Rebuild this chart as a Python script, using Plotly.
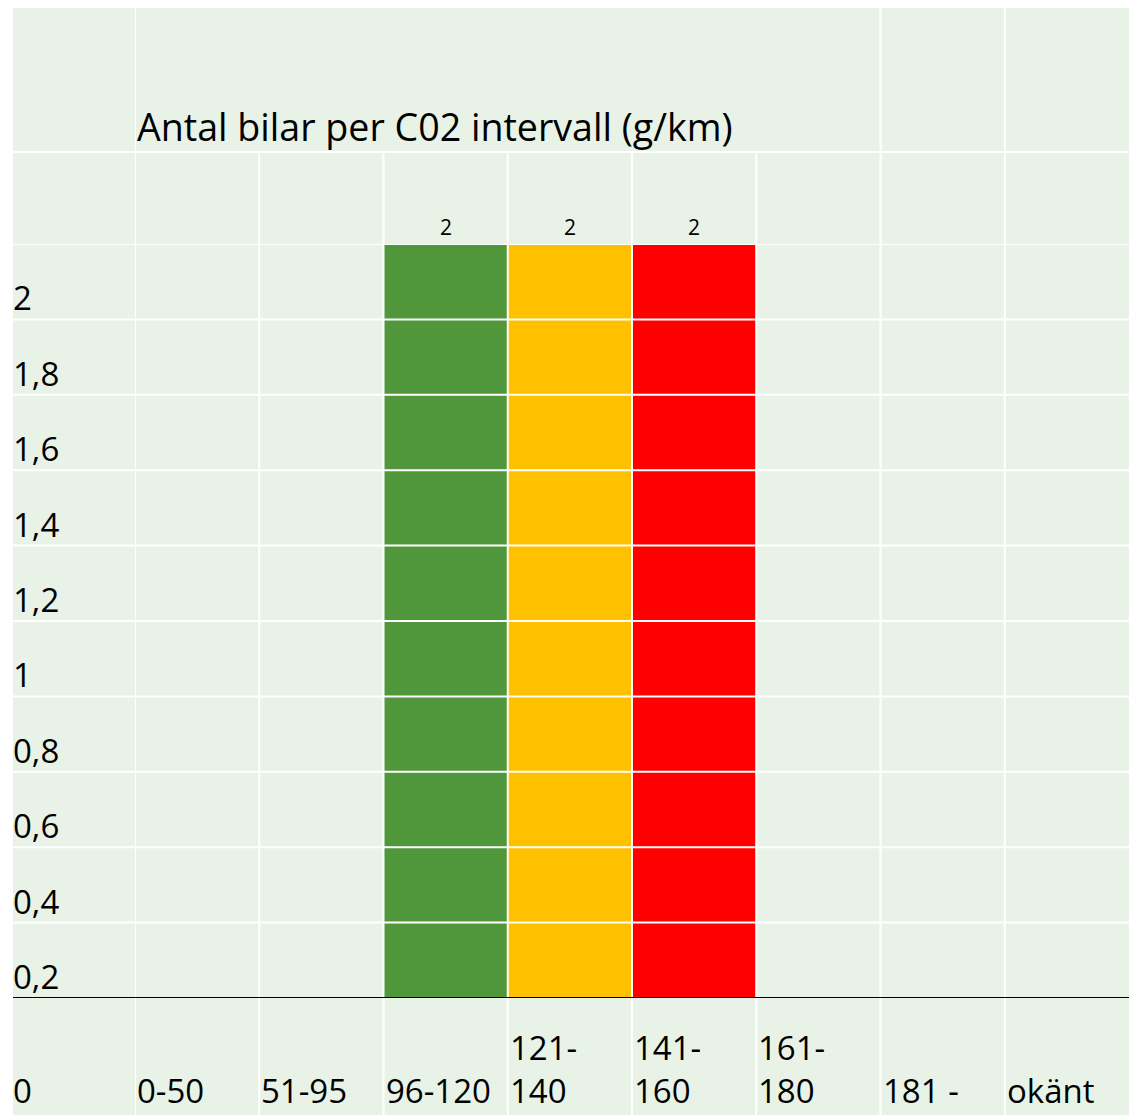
import plotly.graph_objects as go

# ---- data ----
categories = ["0-50", "51-95", "96-120", "121-140", "141-160", "161-180", "181 -", "okänt"]
category_labels = ["0-50", "51-95", "96-120", "121-<br>140", "141-<br>160", "161-<br>180", "181 -", "okänt"]
values = [0, 0, 2, 2, 2, 0, 0, 0]
bar_colors = ["#50963A", "#50963A", "#50963A", "#FFC000", "#FF0000", "#FF0000", "#FF0000", "#FF0000"]
y_ticks = [0, 0.2, 0.4, 0.6, 0.8, 1.0, 1.2, 1.4, 1.6, 1.8, 2.0]
title_text = "Antal bilar per C02 intervall (g/km)"

# ---- layout geometry ----
W, H = 1129, 1115
FONT = "Open Sans"
BG = "#E8F2E6"
GRID = "#FFFFFF"
LABEL_SIZE = 33


def px(p):
    return p / W


def py(p):
    return 1 - p / H


x_idx = list(range(len(categories)))
fig = go.Figure()
fig.add_trace(go.Bar(
    x=x_idx,
    y=values,
    marker=dict(color=bar_colors, line=dict(width=0)),
    text=[str(v) if v else "" for v in values],
    textposition="outside",
    constraintext="none",
    textfont=dict(family=FONT, size=21, color="black"),
    cliponaxis=False,
    width=1.0,
    hoverinfo="skip",
))

shapes = []
# green sheet background
shapes.append(dict(type="rect", xref="paper", yref="paper", x0=px(13), x1=1, y0=0, y1=py(8),
                   fillcolor=BG, line=dict(width=0), layer="below"))
# horizontal white row lines at every tick
for v in y_ticks[1:]:
    shapes.append(dict(type="line", xref="paper", yref="y", x0=px(13), x1=1, y0=v, y1=v,
                       line=dict(color=GRID, width=2), layer="above"))
# line under the title row
shapes.append(dict(type="line", xref="paper", yref="paper", x0=px(13), x1=1, y0=py(152), y1=py(152),
                   line=dict(color=GRID, width=2), layer="above"))
# vertical column lines
title_cols = (0, 5)  # title row merged over these category columns
for b in range(-1, len(categories) - 1):
    xb = b + 0.5
    top = py(152) if title_cols[0] <= b < title_cols[1] else py(8)
    shapes.append(dict(type="line", xref="x", yref="paper", x0=xb, x1=xb, y0=0, y1=top,
                       line=dict(color=GRID, width=2), layer="above"))
# black baseline at zero
shapes.append(dict(type="line", xref="paper", yref="y", x0=px(13), x1=1, y0=0, y1=0,
                   line=dict(color="black", width=2), layer="above"))

annotations = []
# title
annotations.append(dict(text=title_text, xref="paper", yref="paper", x=px(135), y=py(152),
                        xanchor="left", yanchor="bottom", showarrow=False, yshift=-2,
                        font=dict(family=FONT, size=37.6, color="black")))
# y labels: placed at the bottom of the cell below each value
for v in y_ticks:
    lab = f"{v:g}".replace(".", ",")
    if v == 0:
        annotations.append(dict(text=lab, xref="paper", yref="paper", x=px(11), y=0,
                                xanchor="left", yanchor="bottom", showarrow=False, yshift=0,
                                font=dict(family=FONT, size=LABEL_SIZE, color="black")))
    else:
        annotations.append(dict(text=lab, xref="paper", yref="y", x=px(11), y=round(v - 0.2, 1),
                                xanchor="left", yanchor="bottom", showarrow=False, yshift=-3,
                                font=dict(family=FONT, size=LABEL_SIZE, color="black")))
# x labels, left aligned in each column, bottom aligned
for i, lab in enumerate(category_labels):
    annotations.append(dict(text=lab, xref="x", yref="paper", x=i - 0.5, y=0,
                            xanchor="left", yanchor="bottom", align="left", showarrow=False,
                            xshift=0, yshift=0,
                            font=dict(family=FONT, size=LABEL_SIZE, color="black")))

fig.update_layout(
    width=W, height=H,
    margin=dict(l=0, r=0, t=0, b=0),
    paper_bgcolor="white",
    plot_bgcolor="rgba(0,0,0,0)",
    showlegend=False,
    bargap=0,
    xaxis=dict(domain=[px(135), 1], range=[-0.5, len(categories) - 0.5], showgrid=False,
               zeroline=False, showticklabels=False, showline=False, ticks="", fixedrange=True),
    yaxis=dict(domain=[py(998), py(244)], range=[0, 2], showgrid=False, zeroline=False,
               showticklabels=False, showline=False, ticks="", fixedrange=True),
    shapes=shapes,
    annotations=annotations,
)

fig.write_html("out.html", config={"displayModeBar": False},
               post_script="document.body.style.margin='0';document.body.style.overflow='hidden';")
